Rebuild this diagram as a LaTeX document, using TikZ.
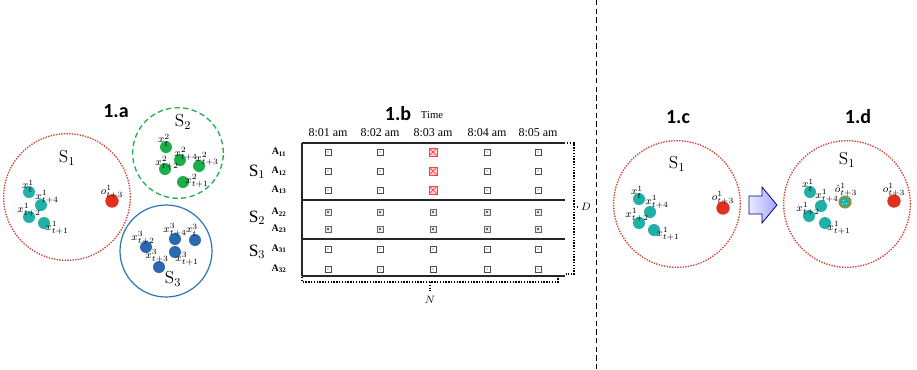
\documentclass[tikz,border=0pt]{standalone}
\usepackage{fontspec}
\newfontfamily\tf{Liberation Serif}
\newfontfamily\hf{Carlito}
\usetikzlibrary{calc}
\definecolor{teal1}{HTML}{1FB0A8}
\definecolor{grn1}{HTML}{1DAE4A}
\definecolor{blu1}{HTML}{2A69B0}
\definecolor{red1}{HTML}{E0301E}
\definecolor{redc}{HTML}{D83A30}
\definecolor{grnc}{HTML}{22B14C}
\definecolor{bluc}{HTML}{2E75B6}
\begin{document}
\begin{tikzpicture}[x=0.75pt,y=-0.75pt,
  dotc/.style={circle,fill=#1,minimum size=9pt,inner sep=0},
  reddot/.style={circle,fill=red1,minimum size=10pt,inner sep=0},
  lab/.style={font=\fontsize{8}{9}\selectfont,inner sep=0},
  slab/.style={font=\fontsize{13}{15}\selectfont,inner sep=0},
  ttl/.style={font=\hf\bfseries\fontsize{15}{17}\selectfont,inner sep=0},
  hdr/.style={font=\tf\fontsize{9}{10}\selectfont,inner sep=0},
  rowlab/.style={font=\tf\bfseries\fontsize{7.5}{9}\selectfont,inner sep=0},
  srow/.style={font=\tf\fontsize{13}{15}\selectfont,inner sep=0},
  setS1/.style={circle,draw=redc,densely dotted,line width=1pt,minimum size=95pt,inner sep=0},
  cellbox/.style={draw=black!70,line width=0.45pt,minimum size=4.5pt,inner sep=0,
    path picture={\fill[black!80] (path picture bounding box.center) circle (0.45pt);}},
  cellboxb/.style={draw=black!60,line width=0.45pt,fill=black!8,minimum size=4.5pt,inner sep=0,
    path picture={\fill[black!60] ([shift={(-0.6pt,-0.6pt)}]path picture bounding box.center) rectangle ([shift={(0.9pt,0.9pt)}]path picture bounding box.center);}},
  redbox/.style={draw=red!75,fill=red!18,line width=0.5pt,minimum size=6pt,inner sep=0,
    path picture={\draw[red!80,line width=0.5pt] (path picture bounding box.south west) -- (path picture bounding box.north east) (path picture bounding box.north west) -- (path picture bounding box.south east);}},
  tline/.style={line width=0.8pt,black!85},
  brace/.style={densely dotted,line width=1.1pt}
]
\useasboundingbox (0,0) rectangle (917,369);

% ================= 1.a =================
\node[ttl] (ta) at (116,111) {1.a};
\node[setS1] (S1a) at (67,197) {};
\node[slab] (S1al) at (67,158) {S$_1$};
\node[dotc=teal1] (a1) at (29,192) {};
\node[dotc=teal1] (a4) at (41,205) {};
\node[dotc=teal1] (a2) at (29,217) {};
\node[dotc=teal1] (a3) at (44,223) {};
\node[reddot] (ao) at (112,201) {};
\node[lab] at (28,186) {$x^1_t$};
\node[lab] at (47,197) {$x^1_{t+4}$};
\node[lab] at (29,210) {$x^1_{t+2}$};
\node[lab] at (57,228) {$x^1_{t+1}$};
\node[lab] at (112,192) {$o^1_{t+3}$};

\node[circle,draw=grnc,dashed,dash pattern=on 4pt off 2.5pt,line width=1pt,minimum size=68pt,inner sep=0] (S2a) at (178,153) {};
\node[slab] (S2al) at (183,122) {S$_2$};
\node[dotc=grn1] (b1) at (166,147) {};
\node[dotc=grn1] (b4) at (180,160) {};
\node[dotc=grn1] (b2) at (165,169) {};
\node[dotc=grn1] (b3) at (199,166) {};
\node[dotc=grn1] (b5) at (183,182) {};
\node[lab] at (164,140) {$x^2_t$};
\node[lab] at (186,154) {$x^2_{t+4}$};
\node[lab] at (167,163) {$x^2_{t+2}$};
\node[lab] at (207,159) {$x^2_{t+3}$};
\node[lab] at (197,181) {$x^2_{t+1}$};

\node[circle,draw=bluc,line width=0.9pt,minimum size=69pt,inner sep=0] (S3a) at (166,251) {};
\node[slab] (S3al) at (173,279) {S$_3$};
\node[dotc=blu1] (c2) at (146,247) {};
\node[dotc=blu1] (c4) at (175,239) {};
\node[dotc=blu1] (c1) at (195,240) {};
\node[dotc=blu1] (c5) at (175,252) {};
\node[dotc=blu1] (c3) at (159,267) {};
\node[lab] at (143,238) {$x^3_{t+2}$};
\node[lab] at (175,230) {$x^3_{t+4}$};
\node[lab] at (192,230) {$x^3_t$};
\node[lab] at (187,259) {$x^3_{t+1}$};
\node[lab] at (157,256) {$x^3_{t+3}$};

% ================= 1.b =================
\node[ttl] (tb) at (398,114) {1.b};
\node[font=\tf\fontsize{8}{9}\selectfont,inner sep=0] (time) at (432,115) {Time};
\foreach \x/\t [count=\i] in {328/8:01 am,380/8:02 am,433/8:03 am,487/8:04 am,538/8:05 am}
  \node[hdr] (h\i) at (\x,133) {\t};

\coordinate (TL) at (302,143);
\coordinate (TR) at (565,143);
\coordinate (BL) at (302,276);
\coordinate (BR) at (565,276);
\draw[tline] (TL) -- (TR);
\draw[tline] (TL) -- (BL);
\draw[tline] (BL) -- (BR);
\draw[tline] (302,200) -- (565,200);
\draw[tline] (302,239) -- (565,239);

\node[rowlab] at (279,152) {A\textsubscript{11}};
\node[rowlab] at (279,171) {A\textsubscript{12}};
\node[rowlab] at (279,190) {A\textsubscript{13}};
\node[rowlab] at (279,212) {A\textsubscript{22}};
\node[rowlab] at (279,229) {A\textsubscript{23}};
\node[rowlab] at (279,249) {A\textsubscript{31}};
\node[rowlab] at (279,269) {A\textsubscript{32}};
\node[srow] at (257,172) {S$_1$};
\node[srow] at (257,218) {S$_2$};
\node[srow] at (257,252) {S$_3$};

\foreach \x in {328,380,487,538}{
  \foreach \y in {152,171,190,249,269}
    \node[cellbox] at (\x,\y) {};
  \foreach \y in {212,229}
    \node[cellboxb] at (\x,\y) {};
}
\foreach \y in {152,171,190}
  \node[redbox] at (433,\y) {};
\foreach \y in {249,269}
  \node[cellbox] at (433,\y) {};
\foreach \y in {212,229}
  \node[cellboxb] at (433,\y) {};

% braces
\coordinate (dA) at (567,143);
\coordinate (dB) at (574,143);
\coordinate (dC) at (574,274);
\coordinate (dD) at (566,274);
\draw[brace] (dA) -- (dB) -- (dC) -- (dD);
\coordinate (dM) at (574,207);
\node[font=\fontsize{8}{9}\selectfont\itshape,inner sep=0] (Dl) at (586,207) {$D$};
\draw[brace] (dM) -- (579,207);

\coordinate (nA) at (302,277);
\coordinate (nB) at (302,282);
\coordinate (nC) at (558,282);
\coordinate (nD) at (558,275);
\draw[brace] (nA) -- (nB) -- (nC) -- (nD);
\node[font=\fontsize{8}{9}\selectfont,inner sep=0] (Nl) at (430,300) {$N$};
\draw[brace] (430,282) -- (430,291);

% separator
\draw[dashed,dash pattern=on 4pt off 2.5pt,line width=0.6pt] (596,0) -- (596,369);

% ================= 1.c =================
\node[ttl] (tc) at (678,117) {1.c};
\node[setS1] (S1c) at (677,204) {};
\node[slab] at (677,164) {S$_1$};
\node[dotc=teal1] at (639,199) {};
\node[dotc=teal1] at (650,212) {};
\node[dotc=teal1] at (639,223) {};
\node[dotc=teal1] at (654,230) {};
\node[reddot] (co) at (723,208) {};
\node[lab] at (637,192) {$x^1_t$};
\node[lab] at (657,202) {$x^1_{t+4}$};
\node[lab] at (637,215) {$x^1_{t+2}$};
\node[lab] at (668,234) {$x^1_{t+1}$};
\node[lab] at (723,198) {$o^1_{t+3}$};

% arrow
\draw[draw=blue!55!black,line width=0.6pt,left color=blue!8,right color=blue!35!white]
  (749,196) -- (762,196) -- (762,187) -- (777,205) -- (762,223) -- (762,214) -- (749,214) -- cycle;

% ================= 1.d =================
\node[ttl] (td) at (858,117) {1.d};
\node[setS1] (S1d) at (847,204) {};
\node[slab] at (847,160) {S$_1$};
\node[dotc=teal1] at (810,192) {};
\node[dotc=teal1] at (821,206) {};
\node[dotc=teal1] at (809,216) {};
\node[dotc=teal1] at (825,223) {};
\node[circle,fill=teal1,draw=orange!90!black,line width=0.8pt,minimum size=9pt,inner sep=0] (dh) at (845,202) {};
\fill[white] (843.5,200.5) circle (0.5pt) (846.5,203.5) circle (0.5pt) (843,204) circle (0.4pt);
\node[reddot] (do) at (894,201) {};
\node[lab] at (808,185) {$x^1_t$};
\node[lab] at (827,196) {$x^1_{t+4}$};
\node[lab] at (808,209) {$x^1_{t+2}$};
\node[lab] at (839,228) {$x^1_{t+1}$};
\node[lab] at (846,190) {$\hat{o}^1_{t+3}$};
\node[lab] at (894,190) {$o^1_{t+3}$};
\end{tikzpicture}
\end{document}
